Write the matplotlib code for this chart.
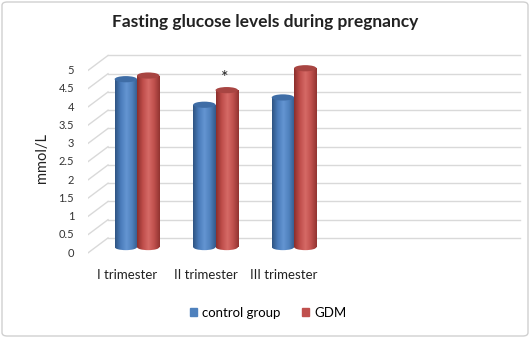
import numpy as np
import matplotlib
matplotlib.use("Agg")
import matplotlib.pyplot as plt
from matplotlib.colors import LinearSegmentedColormap
from matplotlib.patches import Ellipse, FancyBboxPatch, Patch
from matplotlib.transforms import ScaledTranslation

plt.rcParams['font.family'] = ['Lato', 'DejaVu Sans']

categories = ["I trimester", "II trimester", "III trimester"]
control = [4.6, 3.9, 4.1]
gdm = [4.7, 4.3, 4.9]
series_names = ["control group", "GDM"]
yticks = [0, 0.5, 1, 1.5, 2, 2.5, 3, 3.5, 4, 4.5, 5]
star_idx = 1

W, H = 530, 338
fig = plt.figure(figsize=(W / 100, H / 100), dpi=100)

# chart border
fig.patches.append(FancyBboxPatch((2 / W, 2 / H), 1 - 4 / W, 1 - 4 / H,
                                  boxstyle="round,pad=0,rounding_size=0.01",
                                  transform=fig.transFigure, fc="none",
                                  ec="#d0d0d0", lw=1, zorder=-1))

ax = fig.add_axes([88 / W, 1 - 258 / H, (525 - 88) / W, (258 - 50) / H])
ax.set_facecolor("none")
ax.set_xlim(-0.624, 4.94)
ax.set_ylim(-0.30, 5.40)
for s in ax.spines.values():
    s.set_visible(False)

# back wall gridlines + perspective side lines
depth = 0.25
x_back = -0.624 + 20 / 78.5
for v in yticks:
    ax.plot([x_back, 4.88], [v + depth, v + depth], color="#d9d9d9", lw=1, zorder=0)
    ax.plot([-0.624, x_back], [v - 0.16, v + depth], color="#d9d9d9", lw=1, zorder=0)

x = np.arange(len(categories))
w = 0.285
blue_cmap = LinearSegmentedColormap.from_list(
    "b", ["#2f5483", "#4a7cbb", "#6495d2", "#4f81bd", "#34598a"])
red_cmap = LinearSegmentedColormap.from_list(
    "r", ["#8b2f2c", "#bf4d4a", "#d66a66", "#c0504d", "#923431"])
grad = np.linspace(0, 1, 64).reshape(1, -1)

bars_c = ax.bar(x - w / 2, control, w, color="#4f81bd", label=series_names[0], zorder=2)
bars_g = ax.bar(x + w / 2, gdm, w, color="#c0504d", label=series_names[1], zorder=2)

cap_h = 0.17
for bars, cmap, top in [(bars_c, blue_cmap, "#3f6da6"), (bars_g, red_cmap, "#a84542")]:
    for b in bars:
        bx, bw, bh = b.get_x(), b.get_width(), b.get_height()
        b.set_visible(False)
        rect = plt.Rectangle((bx, 0), bw, bh, transform=ax.transData)
        im = ax.imshow(grad, cmap=cmap, extent=[bx, bx + bw, -cap_h, bh],
                       aspect="auto", zorder=2)
        im.set_clip_path(rect)
        bot = Ellipse((bx + bw / 2, 0), bw, cap_h, transform=ax.transData)
        im2 = ax.imshow(grad, cmap=cmap, extent=[bx, bx + bw, -cap_h, bh],
                        aspect="auto", zorder=2)
        im2.set_clip_path(bot)
        ax.add_patch(Ellipse((bx + bw / 2, bh), bw, cap_h, fc=top, ec="none", zorder=3))

ax.set_xlim(-0.624, 4.94)
ax.set_ylim(-0.30, 5.40)

ax.text(x[star_idx] + w / 2 - 0.02, gdm[star_idx] + 0.33, "*", ha="center", va="center",
        fontsize=13, color="#222222")

ax.set_yticks(yticks)
ax.set_yticklabels([f"{v:g}" for v in yticks], fontsize=8, color="#333333")
ax.tick_params(axis="y", length=0, pad=10)
for lab in ax.get_yticklabels():
    lab.set_transform(lab.get_transform() + ScaledTranslation(0, -5 / 100, fig.dpi_scale_trans))

ax.set_xticks(x - 10 / 78.5)
ax.set_xticklabels(categories, fontsize=9.5, color="#222222")
ax.tick_params(axis="x", length=0, pad=8)

fig.text(42 / W, 1 - 158 / H, "mmol/L", rotation=90, ha="center", va="center",
         fontsize=10.5, color="#222222")
fig.text(265 / W, 1 - 22 / H, "Fasting glucose levels during pregnancy",
         ha="center", va="center", fontsize=12.5, fontweight="bold", color="#222222")

handles = [Patch(color="#4f81bd"), Patch(color="#c0504d")]
fig.legend(handles, series_names, loc="center", bbox_to_anchor=(268 / W, 1 - 313 / H),
           ncol=2, frameon=False, fontsize=9.5, handlelength=0.55, handleheight=0.55,
           handletextpad=0.4, columnspacing=1.6)

fig.savefig("out.png", dpi=100)
